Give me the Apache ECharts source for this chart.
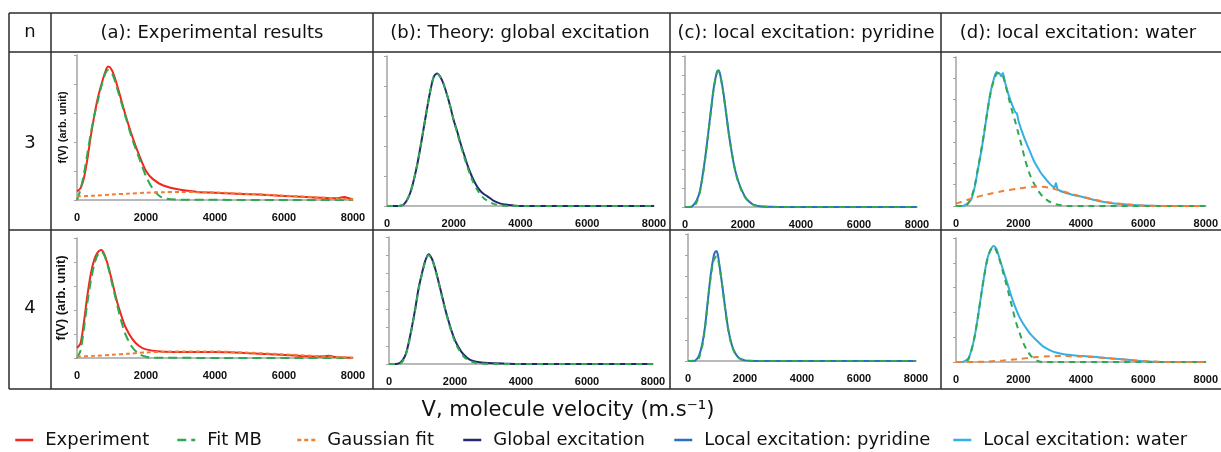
<!DOCTYPE html>
<html>
<head>
<meta charset="utf-8">
<script src="https://cdn.jsdelivr.net/npm/echarts@6/dist/echarts.min.js"></script>
<style>
  html, body { margin: 0; padding: 0; background: #fff; }
  #chart { width: 1221px; height: 452px; }
</style>
</head>
<body>
<div id="chart"></div>
<script>
// velocity (m/s) vs f(V), y in axis tick units
var expA3 = [[0,0.30],[100,0.4],[200,0.75],[300,1.4],[400,2.2],[500,2.9],[600,3.5],[700,3.95],[800,4.35],[900,4.6],[1000,4.5],[1100,4.2],[1200,3.8],[1400,2.95],[1600,2.2],[1800,1.55],[2000,1.0],[2200,0.72],[2500,0.5],[3000,0.35],[3500,0.28],[4000,0.25],[4500,0.22],[5000,0.2],[5500,0.17],[6000,0.14],[6500,0.11],[7000,0.08],[7500,0.06],[7750,0.1],[7900,0.05],[8000,0.02]];
var mbA3 = [[0,0],[100,0.35],[200,0.9],[300,1.6],[400,2.3],[500,2.9],[600,3.4],[700,3.9],[800,4.3],[900,4.48],[1000,4.4],[1100,4.1],[1200,3.7],[1400,2.9],[1600,2.1],[1800,1.45],[2000,0.82],[2200,0.38],[2400,0.13],[2600,0.04],[3000,0.01],[8000,0]];
var gaussA3 = [[0,0.12],[500,0.15],[1000,0.19],[1500,0.22],[2000,0.25],[2500,0.27],[3000,0.28],[3500,0.27],[4000,0.26],[5000,0.21],[6000,0.15],[7000,0.09],[7500,0.05],[8000,0.02]];

var expA4 = [[0,0.42],[100,0.6],[200,1.5],[300,2.6],[400,3.5],[500,4.1],[600,4.4],[700,4.5],[800,4.3],[900,3.85],[1000,3.3],[1100,2.7],[1200,2.15],[1300,1.7],[1400,1.3],[1600,0.8],[1800,0.5],[2000,0.36],[2400,0.27],[3000,0.25],[3500,0.25],[4000,0.25],[4500,0.23],[5000,0.2],[5500,0.17],[6000,0.12],[6500,0.08],[7000,0.06],[7300,0.09],[7500,0.04],[8000,0.01]];
var mbA4 = [[0,0],[100,0.3],[200,1.2],[300,2.3],[400,3.2],[500,3.9],[600,4.3],[700,4.45],[800,4.25],[900,3.8],[1000,3.2],[1100,2.6],[1200,2.0],[1300,1.45],[1400,1.0],[1600,0.45],[1800,0.17],[2000,0.05],[2200,0.01],[8000,0]];
var gaussA4 = [[0,0.06],[500,0.09],[1000,0.13],[1500,0.18],[2000,0.23],[2500,0.26],[3000,0.27],[4000,0.27],[5000,0.22],[6000,0.15],[7000,0.08],[7500,0.04],[8000,0.01]];

var globB3 = [[0,0],[300,0],[400,0.01],[500,0.05],[600,0.2],[700,0.45],[800,0.85],[900,1.35],[1000,1.95],[1100,2.6],[1200,3.25],[1300,3.85],[1400,4.3],[1500,4.42],[1600,4.3],[1700,4.05],[1800,3.7],[1900,3.3],[2000,2.85],[2100,2.5],[2200,2.1],[2300,1.75],[2400,1.4],[2500,1.1],[2600,0.85],[2700,0.65],[2800,0.5],[2900,0.4],[3000,0.33],[3100,0.25],[3200,0.17],[3400,0.08],[3600,0.04],[3800,0.02],[4000,0],[8000,0]];
var mbB3 = [[0,0],[300,0],[400,0.01],[500,0.05],[600,0.2],[700,0.45],[800,0.85],[900,1.35],[1000,1.95],[1100,2.6],[1200,3.25],[1300,3.85],[1400,4.3],[1500,4.42],[1600,4.3],[1700,4.05],[1800,3.7],[1900,3.3],[2000,2.85],[2100,2.45],[2200,2.05],[2300,1.68],[2400,1.33],[2500,1.02],[2600,0.75],[2700,0.55],[2800,0.38],[2900,0.26],[3000,0.18],[3100,0.12],[3200,0.07],[3400,0.02],[3600,0],[8000,0]];

var globB4 = [[0,0],[200,0],[300,0.03],[400,0.18],[500,0.5],[600,1.2],[700,2.1],[800,3.1],[900,4.2],[1000,5.0],[1100,5.7],[1200,6.05],[1300,5.8],[1400,5.25],[1500,4.55],[1600,3.8],[1700,3.05],[1800,2.4],[1900,1.8],[2000,1.3],[2100,0.95],[2200,0.65],[2300,0.45],[2400,0.3],[2500,0.2],[2600,0.14],[2800,0.08],[3000,0.05],[3500,0.02],[4000,0],[8000,0]];
var mbB4 = [[0,0],[300,0],[400,0.12],[500,0.45],[600,1.15],[700,2.05],[800,3.05],[900,4.15],[1000,4.95],[1100,5.65],[1200,6.0],[1300,5.78],[1400,5.22],[1500,4.5],[1600,3.75],[1700,3.0],[1800,2.33],[1900,1.72],[2000,1.22],[2100,0.85],[2200,0.55],[2300,0.35],[2400,0.22],[2500,0.13],[2600,0.07],[2800,0.03],[3000,0.01],[3200,0],[8000,0]];

var pyrC3 = [[0,0],[200,0],[300,0.12],[400,0.35],[500,0.75],[600,1.6],[700,2.65],[800,3.9],[900,5.2],[1000,6.4],[1100,7.15],[1150,7.25],[1200,7.1],[1300,6.3],[1400,5.2],[1500,4.0],[1600,3.0],[1700,2.15],[1800,1.55],[1900,1.1],[2000,0.75],[2100,0.48],[2200,0.3],[2300,0.18],[2400,0.1],[2600,0.04],[3000,0.01],[3500,0],[8000,0]];
var mbC3 = [[0,0],[300,0.05],[400,0.25],[500,0.7],[600,1.55],[700,2.6],[800,3.85],[900,5.15],[1000,6.35],[1100,7.1],[1150,7.2],[1200,7.05],[1300,6.25],[1400,5.15],[1500,4.0],[1600,3.0],[1700,2.15],[1800,1.5],[1900,1.05],[2000,0.7],[2100,0.45],[2200,0.28],[2300,0.16],[2400,0.09],[2600,0.03],[3000,0],[8000,0]];

var pyrC4 = [[0,0],[200,0],[300,0.08],[400,0.3],[500,0.8],[600,1.65],[700,2.9],[800,4.1],[900,4.95],[950,5.15],[1000,5.2],[1050,5.0],[1100,4.55],[1200,3.6],[1300,2.55],[1400,1.6],[1500,0.95],[1600,0.52],[1700,0.28],[1800,0.14],[1900,0.07],[2000,0.03],[2200,0.01],[2500,0],[8000,0]];
var mbC4 = [[0,0],[300,0.02],[400,0.2],[500,0.7],[600,1.6],[700,2.85],[800,4.0],[900,4.75],[1000,4.95],[1100,4.5],[1200,3.55],[1300,2.5],[1400,1.55],[1500,0.9],[1600,0.5],[1700,0.25],[1800,0.12],[1900,0.05],[2000,0.02],[2200,0],[8000,0]];

var watD3 = [[0,0],[200,0],[300,0.05],[400,0.15],[500,0.35],[600,0.9],[700,1.7],[800,2.5],[900,3.4],[1000,4.4],[1100,5.3],[1200,5.9],[1300,6.3],[1350,6.25],[1400,6.22],[1450,6.1],[1500,6.25],[1550,5.95],[1600,5.65],[1700,5.15],[1800,4.75],[1900,4.4],[1950,4.35],[2000,4.0],[2100,3.55],[2200,3.15],[2300,2.8],[2400,2.45],[2500,2.1],[2600,1.85],[2700,1.6],[2800,1.4],[2900,1.22],[3000,1.05],[3100,0.92],[3150,0.85],[3200,1.08],[3250,0.8],[3300,0.74],[3500,0.62],[3750,0.52],[4000,0.45],[4250,0.35],[4500,0.26],[4750,0.19],[5000,0.13],[5500,0.07],[6000,0.02],[6500,0],[8000,0]];
var mbD3 = [[0,0],[300,0],[400,0.15],[500,0.45],[600,0.95],[700,1.75],[800,2.55],[900,3.45],[1000,4.4],[1100,5.25],[1200,5.85],[1300,6.2],[1400,6.25],[1500,6.1],[1600,5.6],[1700,5.0],[1800,4.45],[1900,3.95],[2000,3.4],[2100,2.85],[2200,2.25],[2300,1.75],[2400,1.35],[2500,1.05],[2600,0.8],[2700,0.58],[2800,0.42],[2900,0.3],[3000,0.2],[3200,0.08],[3400,0.03],[3600,0],[8000,0]];
var gaussD3 = [[0,0.11],[500,0.35],[1000,0.55],[1500,0.7],[2000,0.82],[2500,0.9],[2750,0.9],[3000,0.85],[3500,0.66],[4000,0.45],[4500,0.28],[5000,0.15],[5500,0.07],[6000,0.02],[6500,0],[8000,0]];

var watD4 = [[0,0],[200,0],[300,0.05],[400,0.15],[500,0.5],[600,1.05],[700,1.8],[800,2.65],[900,3.45],[1000,4.15],[1100,4.5],[1200,4.68],[1300,4.55],[1400,4.15],[1500,3.75],[1600,3.35],[1700,2.95],[1800,2.55],[1900,2.2],[2000,1.9],[2100,1.65],[2200,1.45],[2400,1.1],[2600,0.85],[2800,0.62],[3000,0.48],[3200,0.38],[3500,0.3],[3800,0.26],[4000,0.24],[4400,0.21],[4800,0.16],[5200,0.12],[5600,0.08],[5800,0.05],[6000,0.03],[6300,0.01],[6600,0],[8000,0]];
var mbD4 = [[0,0],[300,0],[400,0.12],[500,0.5],[600,1.05],[700,1.8],[800,2.65],[900,3.45],[1000,4.1],[1100,4.5],[1200,4.65],[1300,4.45],[1400,4.1],[1500,3.65],[1600,3.2],[1700,2.7],[1800,2.2],[1900,1.7],[2000,1.3],[2100,0.95],[2200,0.65],[2300,0.42],[2400,0.25],[2500,0.13],[2600,0.05],[2700,0.01],[2800,0],[8000,0]];
var gaussD4 = [[0,0],[500,0],[1000,0.02],[1500,0.06],[2000,0.12],[2500,0.19],[3000,0.23],[3500,0.24],[4000,0.22],[4500,0.19],[5000,0.14],[5500,0.09],[6000,0.04],[6500,0.01],[7000,0],[8000,0]];

var columnTitles = ['(a): Experimental results', '(b): Theory: global excitation', '(c): local excitation: pyridine', '(d): local excitation: water'];
var rowLabels = ['3', '4'];
var xTicks = [0, 2000, 4000, 6000, 8000];

var C = {
  exp: '#f2261d', mb: '#2daa4f', gauss: '#ef7f33',
  glob: '#222a6c', pyr: '#2c6fc2', wat: '#36aee6'
};
var axisGrey = '#a3a3a3';
var txt = 'DejaVu Sans';

var chart = echarts.init(document.getElementById('chart'));

// panel boxes: [left, top, width, height], y max (ticks), axis name size
var panels = [
  { box: [77, 55, 276, 145], ymax: 5, name: 11 },
  { box: [77, 238, 276, 120], ymax: 5, name: 13 },
  { box: [387, 56, 267, 150], ymax: 5 },
  { box: [389, 237, 264, 127], ymax: 7 },
  { box: [685, 56, 232, 151], ymax: 8 },
  { box: [688, 234, 228, 127], ymax: 6 },
  { box: [956, 57, 253, 149], ymax: 7 },
  { box: [956, 238, 254, 124], ymax: 5 }
];

var grids = [], xAxes = [], yAxes = [];
panels.forEach(function (p, i) {
  grids.push({ left: p.box[0], top: p.box[1], width: p.box[2], height: p.box[3] });
  xAxes.push({
    type: 'value', gridIndex: i, min: xTicks[0], max: xTicks[xTicks.length - 1], interval: 2000,
    axisLine: { lineStyle: { color: axisGrey, width: 1.5 } },
    axisTick: { show: false },
    splitLine: { show: false },
    axisLabel: {
      color: '#111', fontFamily: 'Liberation Sans', fontWeight: 'bold', fontSize: 11, margin: 12,
      formatter: function (v) { return String(v); }
    }
  });
  yAxes.push({
    type: 'value', gridIndex: i, min: 0, max: p.ymax, interval: 1,
    name: p.name ? 'f(V) (arb. unit)' : '',
    nameLocation: 'middle', nameGap: 9, nameRotate: 90,
    nameTextStyle: { fontFamily: 'Liberation Sans', fontWeight: 'bold', fontSize: p.name || 11, color: '#111' },
    axisLine: { lineStyle: { color: axisGrey, width: 1.5 } },
    axisTick: { show: true, length: 3, lineStyle: { color: axisGrey } },
    axisLabel: { show: false },
    splitLine: { show: false }
  });
});

function line(name, data, idx, color, dash) {
  return {
    name: name, type: 'line', data: data,
    xAxisIndex: idx, yAxisIndex: idx,
    symbol: 'none', smooth: 0.3, silent: true,
    lineStyle: { color: color, width: 2, type: dash || 'solid' },
    itemStyle: { color: color }
  };
}

var series = [
  line('Experiment', expA3, 0, C.exp),
  line('Fit MB', mbA3, 0, C.mb, [9, 5]),
  line('Gaussian fit', gaussA3, 0, C.gauss, [4, 3]),
  line('Experiment', expA4, 1, C.exp),
  line('Fit MB', mbA4, 1, C.mb, [9, 5]),
  line('Gaussian fit', gaussA4, 1, C.gauss, [4, 3]),
  line('Global excitation', globB3, 2, C.glob),
  line('Fit MB', mbB3, 2, C.mb, [6, 5]),
  line('Global excitation', globB4, 3, C.glob),
  line('Fit MB', mbB4, 3, C.mb, [6, 5]),
  line('Local excitation: pyridine', pyrC3, 4, C.pyr),
  line('Fit MB', mbC3, 4, C.mb, [6, 5]),
  line('Local excitation: pyridine', pyrC4, 5, C.pyr),
  line('Fit MB', mbC4, 5, C.mb, [6, 5]),
  line('Local excitation: water', watD3, 6, C.wat),
  line('Fit MB', mbD3, 6, C.mb, [6, 5]),
  line('Gaussian fit', gaussD3, 6, C.gauss, [6, 5]),
  line('Local excitation: water', watD4, 7, C.wat),
  line('Fit MB', mbD4, 7, C.mb, [6, 5]),
  line('Gaussian fit', gaussD4, 7, C.gauss, [6, 5])
];

// one legend per item so they sit where the original has them
var legendItems = [
  ['Experiment', 14], ['Fit MB', 176], ['Gaussian fit', 296],
  ['Global excitation', 462], ['Local excitation: pyridine', 673], ['Local excitation: water', 952]
];
var legends = legendItems.map(function (it) {
  return {
    data: [it[0]], left: it[1], top: 431, padding: 0,
    itemWidth: 18, itemHeight: 12, selectedMode: false,
    itemStyle: { color: 'rgba(0,0,0,0)', borderWidth: 0, opacity: 0 },
    lineStyle: { width: 2.5 },
    textStyle: { fontFamily: txt, fontSize: 18, color: '#111', padding: [0, 0, 0, 7] }
  };
});

// table lines
var graphics = [];
function hline(y) {
  graphics.push({ type: 'line', shape: { x1: 9, y1: y, x2: 1221, y2: y }, style: { stroke: '#2b2b2b', lineWidth: 1.5 }, silent: true });
}
function vline(x) {
  graphics.push({ type: 'line', shape: { x1: x, y1: 13, x2: x, y2: 389 }, style: { stroke: '#2b2b2b', lineWidth: 1.5 }, silent: true });
}
[13, 52, 230, 389].forEach(hline);
[9, 51, 373, 670, 941].forEach(vline);

function label(text, x, y, size) {
  graphics.push({
    type: 'text', x: x, y: y, silent: true,
    style: { text: text, fill: '#111', font: size + 'px "' + txt + '"', textAlign: 'center', textVerticalAlign: 'middle' }
  });
}
label('n', 30, 32, 18);
var colCenters = [212, 520, 806, 1078];
columnTitles.forEach(function (t, i) { label(t, colCenters[i], 33, 18); });
label(rowLabels[0], 30, 143, 18);
label(rowLabels[1], 30, 308, 18);
label('V, molecule velocity (m.s\u207B\u00B9)', 568, 411, 21);

chart.setOption({
  backgroundColor: '#fff',
  animation: false,
  grid: grids,
  xAxis: xAxes,
  yAxis: yAxes,
  legend: legends,
  series: series,
  graphic: graphics
});
</script>
</body>
</html>
